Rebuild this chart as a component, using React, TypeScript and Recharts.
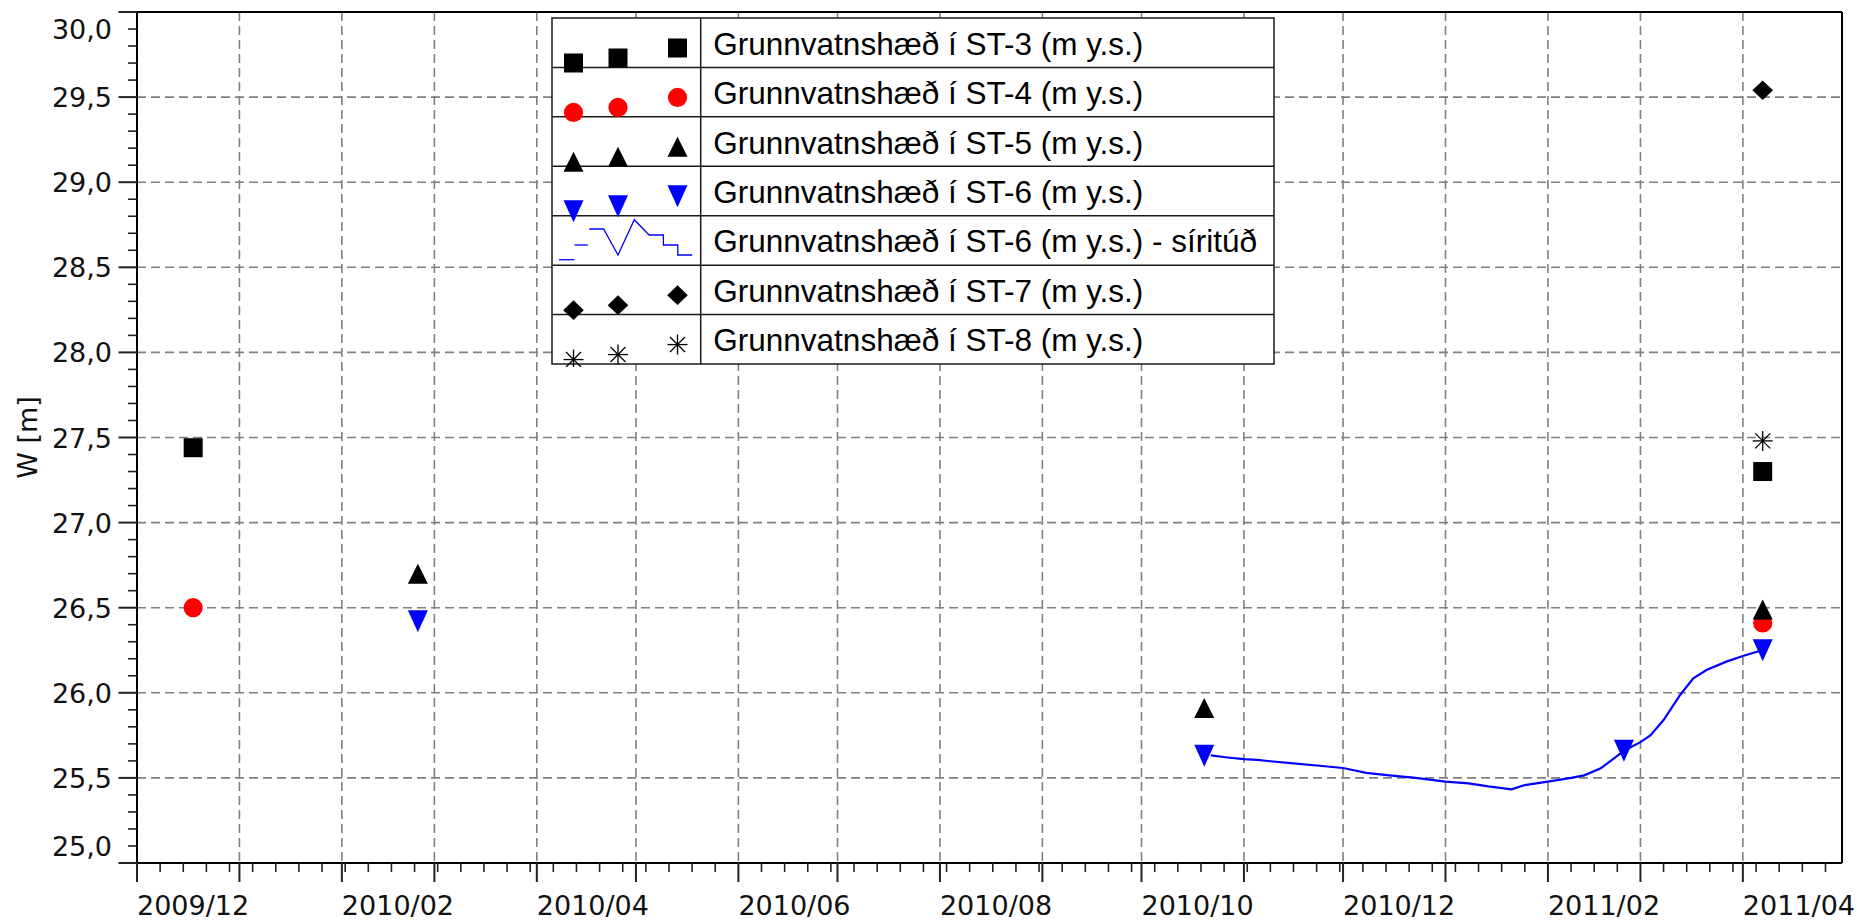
import React from "react";
import {
  ComposedChart,
  Scatter,
  Line,
  XAxis,
  YAxis,
  CartesianGrid,
  ReferenceLine,
  Legend,
} from "recharts";

const AXIS_FONT = '"DejaVu Sans", Verdana, sans-serif';
const LEGEND_FONT = '"Liberation Sans", Arial, sans-serif';

const ts = (d: string) => Date.parse(d + "T00:00:00Z");
const DAY = 86400000;

const X_MIN = ts("2009-12-01");
const X_MAX = ts("2011-05-01");

const X_LABELS = ["2009/12", "2010/02", "2010/04", "2010/06", "2010/08", "2010/10", "2010/12", "2011/02", "2011/04"];
const Y_LABELS = [25, 25.5, 26, 26.5, 27, 27.5, 28, 28.5, 29, 29.5, 30];

// measurements per well
const ST3_DATES = ["2009-12-18", "2011-04-07"];
const ST3_VALUES = [27.44, 27.3];
const ST4_DATES = ["2009-12-18", "2011-04-07"];
const ST4_VALUES = [26.5, 26.41];
const ST5_DATES = ["2010-02-24", "2010-10-20", "2011-04-07"];
const ST5_VALUES = [26.7, 25.91, 26.49];
const ST6_DATES = ["2010-02-24", "2010-10-20", "2011-02-24", "2011-04-07"];
const ST6_VALUES = [26.42, 25.63, 25.66, 26.25];
const ST7_DATES = ["2011-04-07"];
const ST7_VALUES = [29.54];
const ST8_DATES = ["2011-04-07"];
const ST8_VALUES = [27.48];

// logger (síritúð) in ST-6
const LOGGER_DATES = [
  "2010-10-22", "2010-10-27", "2010-11-01", "2010-11-05", "2010-11-09", "2010-11-16", "2010-11-23",
  "2010-12-01", "2010-12-05", "2010-12-08", "2010-12-15", "2010-12-23", "2011-01-01", "2011-01-08",
  "2011-01-14", "2011-01-21", "2011-01-25", "2011-02-01", "2011-02-08", "2011-02-12",
  "2011-02-17", "2011-02-22", "2011-02-24", "2011-03-01", "2011-03-04", "2011-03-08",
  "2011-03-13", "2011-03-17", "2011-03-21", "2011-03-27", "2011-04-01", "2011-04-05",
  "2011-04-07",
];
const LOGGER_VALUES = [
  25.632, 25.62, 25.61, 25.606, 25.598, 25.585, 25.573,
  25.558, 25.542, 25.53, 25.515, 25.5, 25.478, 25.468,
  25.45, 25.433, 25.458, 25.478, 25.5, 25.515,
  25.556, 25.63, 25.66, 25.71, 25.75, 25.84,
  25.987, 26.085, 26.134, 26.183, 26.216, 26.24,
  26.25,
];

const LEGEND_LABELS = [
  "Grunnvatnshæð í ST-3 (m y.s.)",
  "Grunnvatnshæð í ST-4 (m y.s.)",
  "Grunnvatnshæð í ST-5 (m y.s.)",
  "Grunnvatnshæð í ST-6 (m y.s.)",
  "Grunnvatnshæð í ST-6 (m y.s.) - síritúð",
  "Grunnvatnshæð í ST-7 (m y.s.)",
  "Grunnvatnshæð í ST-8 (m y.s.)",
];

const toPoints = (dates: string[], values: number[]) =>
  dates.map((d, i) => ({ x: ts(d), y: values[i] }));

// month starts (major ticks + grid) and weekly minor ticks
const MONTH_TICKS: number[] = [];
for (let y = 2009, m = 11; ; ) {
  const t = Date.UTC(y, m, 1);
  if (t >= X_MAX) break;
  MONTH_TICKS.push(t);
  m++;
  if (m > 11) { m = 0; y++; }
}
const WEEK_TICKS: number[] = [];
for (let t = X_MIN; t < X_MAX; t += 7 * DAY) WEEK_TICKS.push(t);
const X_TICKS = Array.from(new Set([...MONTH_TICKS, ...WEEK_TICKS])).sort((a, b) => a - b);

const Y_TICKS: number[] = [];
for (let i = 0; i <= 50; i++) Y_TICKS.push((250 + i) / 10);

const monthLabel = (t: number) => {
  const d = new Date(t);
  return `${d.getUTCFullYear()}/${String(d.getUTCMonth() + 1).padStart(2, "0")}`;
};

function XTick(props: any) {
  const { x, y, payload } = props;
  const v = payload.value;
  const isMonth = MONTH_TICKS.includes(v);
  const label = monthLabel(v);
  const show = isMonth && X_LABELS.includes(label);
  return (
    <g>
      <line x1={x} x2={x} y1={y} y2={y + (isMonth ? 19 : 9)} stroke="#222" strokeWidth={isMonth ? 2 : 1.6} />
      {show && (
        <text x={x} y={y + 52} textAnchor="start" fontFamily={AXIS_FONT} fontSize={27} fill="#111">
          {label}
        </text>
      )}
    </g>
  );
}

function YTick(props: any) {
  const { x, y, payload } = props;
  const v = payload.value;
  const major = Y_LABELS.some((l) => Math.abs(l - v) < 1e-6);
  const shift = v > 29.99 ? 16.5 : v < 25.01 ? -17 : 0;
  return (
    <g>
      <line x1={x - (major ? 18.5 : 9)} x2={x} y1={y} y2={y} stroke="#222" strokeWidth={major ? 2 : 1.6} />
      {major && (
        <text x={x - 25} y={y + shift + 10} textAnchor="end" fontFamily={AXIS_FONT} fontSize={27} fill="#111">
          {v.toFixed(1).replace(".", ",")}
        </text>
      )}
    </g>
  );
}

// marker shapes
const square = (cx: number, cy: number) => (
  <rect x={cx - 9.5} y={cy - 9.5} width={19} height={19} fill="#000" />
);
const circle = (cx: number, cy: number) => <circle cx={cx} cy={cy} r={9.6} fill="#ff0000" />;
const triUp = (cx: number, cy: number) => (
  <polygon points={`${cx},${cy - 10} ${cx + 10},${cy + 10} ${cx - 10},${cy + 10}`} fill="#000" />
);
const triDown = (cx: number, cy: number) => (
  <polygon points={`${cx - 10},${cy - 11} ${cx + 10},${cy - 11} ${cx},${cy + 11}`} fill="#0000ff" />
);
const diamond = (cx: number, cy: number) => (
  <polygon points={`${cx},${cy - 9.8} ${cx + 10.3},${cy} ${cx},${cy + 9.8} ${cx - 10.3},${cy}`} fill="#000" />
);
const star = (cx: number, cy: number) => (
  <g stroke="#000" strokeWidth={1.3}>
    <line x1={cx} y1={cy - 10} x2={cx} y2={cy + 10} />
    <line x1={cx - 10} y1={cy} x2={cx + 10} y2={cy} />
    <line x1={cx - 7.5} y1={cy - 7.5} x2={cx + 7.5} y2={cy + 7.5} />
    <line x1={cx - 7.5} y1={cy + 7.5} x2={cx + 7.5} y2={cy - 7.5} />
  </g>
);

const MARKERS = [square, circle, triUp, triDown, null, diamond, star];

const shapeOf = (fn: (cx: number, cy: number) => React.ReactElement) => (p: any) => fn(p.cx, p.cy);

function LegendBox() {
  const W = 722;
  const H = 346;
  const RH = H / 7;
  const DIV = 148.7;
  return (
    <svg width={W + 4} height={H + 4} style={{ display: "block" }}>
      <g transform="translate(1,1)">
        <rect x={0} y={0} width={W} height={H} fill="#fff" stroke="#1a1a1a" strokeWidth={1.5} />
        {LEGEND_LABELS.map((_, i) =>
          i > 0 ? <line key={"r" + i} x1={0} x2={W} y1={i * RH} y2={i * RH} stroke="#1a1a1a" strokeWidth={1.5} /> : null
        )}
        <line x1={DIV} x2={DIV} y1={0} y2={H} stroke="#1a1a1a" strokeWidth={1.5} />
        {LEGEND_LABELS.map((label, i) => (
          <text key={"t" + i} x={161.3} y={i * RH + 36.7} fontFamily={LEGEND_FONT} fontSize={31.5} fill="#000">
            {label}
          </text>
        ))}
        {MARKERS.map((fn, i) => {
          const top = i * RH;
          if (!fn) {
            return (
              <g key={"m" + i} stroke="#0000ff" strokeWidth={1.3} fill="none">
                <line x1={7} y1={top + 44} x2={22.4} y2={top + 44} />
                <line x1={22.4} y1={top + 29.3} x2={35.8} y2={top + 29.3} />
                <polyline
                  points={`37.3,${top + 13.3} 51.6,${top + 13.3} 66,${top + 39.3} 82.3,${top + 4} 97.1,${top + 19.3} 111.4,${top + 19.3} 111.4,${top + 29.3} 125.8,${top + 29.3} 125.8,${top + 39.3} 140.2,${top + 39.3}`}
                />
              </g>
            );
          }
          return (
            <g key={"m" + i}>
              {fn(21.5, top + 45)}
              {fn(66, top + 40)}
              {fn(125.5, top + 30)}
            </g>
          );
        })}
      </g>
    </svg>
  );
}

export default function App() {
  const gridMonths = MONTH_TICKS.filter((t) => t > X_MIN);
  const gridLevels = Y_LABELS.filter((v) => v > 25 && v < 30);
  return (
    <div style={{ position: "absolute", left: 0, top: 0, width: 1861, height: 921, background: "#fff" }}>
      <ComposedChart width={1861} height={921} margin={{ top: 12, right: 19, bottom: 0, left: 0 }}>
        <CartesianGrid
          stroke="#808080"
          strokeWidth={1.6}
          strokeDasharray="9 5"
          verticalValues={gridMonths}
          horizontalValues={gridLevels}
        />
        <XAxis
          type="number"
          dataKey="x"
          domain={[X_MIN, X_MAX]}
          allowDataOverflow
          ticks={X_TICKS}
          interval={0}
          tick={<XTick />}
          tickLine={false}
          tickSize={0}
          tickMargin={0}
          axisLine={{ stroke: "#000", strokeWidth: 2 }}
          height={58}
        />
        <YAxis
          type="number"
          dataKey="y"
          domain={[25, 30]}
          allowDataOverflow
          ticks={Y_TICKS}
          interval={0}
          tick={<YTick />}
          tickLine={false}
          tickSize={0}
          tickMargin={0}
          axisLine={{ stroke: "#000", strokeWidth: 2 }}
          width={137}
          label={(p: any) => {
            const vb = p.viewBox || { x: 0, y: 12, height: 851 };
            const cy = vb.y + vb.height / 2;
            return (
              <text
                x={26.7}
                y={cy}
                dy={10}
                transform={`rotate(-90 26.7 ${cy})`}
                textAnchor="middle"
                fontFamily={AXIS_FONT}
                fontSize={27}
                fill="#111"
              >
                W [m]
              </text>
            );
          }}
        />
        <ReferenceLine y={30} stroke="#000" strokeWidth={2} />
        <ReferenceLine x={X_MAX} stroke="#000" strokeWidth={2} />
        <Line
          data={toPoints(LOGGER_DATES, LOGGER_VALUES)}
          dataKey="y"
          type="linear"
          stroke="#0000ff"
          strokeWidth={2.2}
          dot={false}
          isAnimationActive={false}
          name={LEGEND_LABELS[4]}
        />
        <Scatter data={toPoints(ST3_DATES, ST3_VALUES)} shape={shapeOf(square)} isAnimationActive={false} name={LEGEND_LABELS[0]} />
        <Scatter data={toPoints(ST4_DATES, ST4_VALUES)} shape={shapeOf(circle)} isAnimationActive={false} name={LEGEND_LABELS[1]} />
        <Scatter data={toPoints(ST5_DATES, ST5_VALUES)} shape={shapeOf(triUp)} isAnimationActive={false} name={LEGEND_LABELS[2]} />
        <Scatter data={toPoints(ST6_DATES, ST6_VALUES)} shape={shapeOf(triDown)} isAnimationActive={false} name={LEGEND_LABELS[3]} />
        <Scatter data={toPoints(ST7_DATES, ST7_VALUES)} shape={shapeOf(diamond)} isAnimationActive={false} name={LEGEND_LABELS[5]} />
        <Scatter data={toPoints(ST8_DATES, ST8_VALUES)} shape={shapeOf(star)} isAnimationActive={false} name={LEGEND_LABELS[6]} />
        <Legend
          layout="horizontal"
          verticalAlign="middle"
          align="center"
          content={() => <LegendBox />}
          wrapperStyle={{ left: 551, top: 17, width: 726, height: 350 }}
        />
      </ComposedChart>
    </div>
  );
}
